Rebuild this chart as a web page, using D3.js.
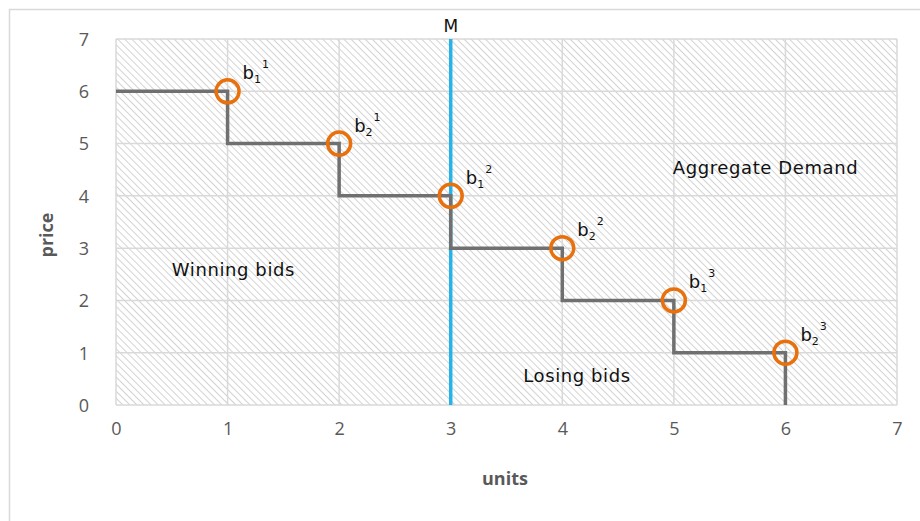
<!DOCTYPE html>
<html><head><meta charset="utf-8">
<script src="https://cdn.jsdelivr.net/npm/d3@7"></script>
<style>body{margin:0;background:#fff}svg{display:block}</style>
</head><body>
<svg id="c" width="920" height="521"></svg>
<script>
// data
const stepUnits = [0, 1, 2, 3, 4, 5, 6];
const stepPrice = [6, 5, 4, 3, 2, 1, 0];
const bidUnits = [1, 2, 3, 4, 5, 6];
const bidPrice = [6, 5, 4, 3, 2, 1];
const bidSub = ["1", "2", "1", "2", "1", "2"];
const bidSup = ["1", "1", "2", "2", "3", "3"];
const xTicks = [0, 1, 2, 3, 4, 5, 6, 7];
const yTicks = [0, 1, 2, 3, 4, 5, 6, 7];
const marketUnits = 3;
const marketLabel = "M";
const noteText = ["Winning bids", "Aggregate Demand", "Losing bids"];
const noteUnits = [0.5, 4.99, 3.65];
const notePrice = [2.47, 4.42, 0.44];

const svg = d3.select("#c");
const W = 920, H = 521;
const m = {l: 116, r: 23, t: 39, b: 116};
const x = d3.scaleLinear().domain([0, 7]).range([m.l, W - m.r]);
const y = d3.scaleLinear().domain([0, 7]).range([H - m.b, m.t]);
const annFont = "DejaVu Sans, sans-serif";

// outer frame
svg.append("path").attr("d", `M9.5,${H} V9.5 H${W}`).attr("fill", "none").attr("stroke", "#d9d9d9").attr("stroke-width", 1.5);

// hatch pattern
const defs = svg.append("defs");
const pat = defs.append("pattern").attr("id", "hatch").attr("patternUnits", "userSpaceOnUse")
  .attr("width", 5).attr("height", 5).attr("patternTransform", "rotate(-45)");
pat.append("line").attr("x1", 0).attr("y1", 0).attr("x2", 0).attr("y2", 5)
  .attr("stroke", "#c8c8c8").attr("stroke-width", 1.6);

svg.append("rect").attr("x", x(0)).attr("y", y(7)).attr("width", x(7) - x(0)).attr("height", y(0) - y(7))
  .attr("fill", "url(#hatch)");

// gridlines
const grid = svg.append("g").attr("stroke", "#d9d9d9").attr("stroke-width", 1.5);
grid.selectAll(".gx").data(xTicks).join("line")
  .attr("x1", d => x(d)).attr("x2", d => x(d)).attr("y1", y(0)).attr("y2", y(7));
grid.selectAll(".gy").data(yTicks).join("line")
  .attr("y1", d => y(d)).attr("y2", d => y(d)).attr("x1", x(0)).attr("x2", x(7));

// axes tick labels
const xAxis = svg.append("g").attr("transform", `translate(0,${y(0) + 14})`)
  .call(d3.axisBottom(x).tickValues(xTicks).tickSize(0).tickFormat(d3.format("d")));
const yAxis = svg.append("g").attr("transform", `translate(${x(0) - 24},0)`)
  .call(d3.axisLeft(y).tickValues(yTicks).tickSize(0).tickFormat(d3.format("d")));
[xAxis, yAxis].forEach(a => {
  a.select(".domain").remove();
  a.selectAll("text").attr("fill", "#595959").attr("font-size", 18).attr("font-family", "Open Sans, sans-serif");
});
yAxis.selectAll("text").attr("dy", "0.35em");

// axis titles
svg.append("text").attr("x", 505).attr("y", 485).attr("text-anchor", "middle")
  .attr("font-family", "Open Sans, sans-serif").attr("font-weight", "bold").attr("font-size", 18).attr("fill", "#595959").text("units");
svg.append("text").attr("transform", `translate(53,235) rotate(-90)`).attr("text-anchor", "middle")
  .attr("font-family", "Open Sans, sans-serif").attr("font-weight", "bold").attr("font-size", 18).attr("fill", "#595959").text("price");

// market line
svg.append("line").attr("x1", x(marketUnits)).attr("x2", x(marketUnits)).attr("y1", y(7)).attr("y2", y(0))
  .attr("stroke", "#27b3e8").attr("stroke-width", 3.5);
svg.append("text").attr("x", x(marketUnits)).attr("y", 32).attr("text-anchor", "middle")
  .attr("font-family", annFont).attr("font-size", 17).attr("fill", "#111").text(marketLabel);

// demand step line
const pts = stepUnits.map((u, i) => [u, stepPrice[i]]);
svg.append("path").datum(pts)
  .attr("d", d3.line().x(d => x(d[0])).y(d => y(d[1])).curve(d3.curveStepAfter))
  .attr("fill", "none").attr("stroke", "#707070").attr("stroke-width", 3.5);

// bid circles
svg.selectAll(".bid").data(bidUnits).join("circle")
  .attr("cx", d => x(d)).attr("cy", (d, i) => y(bidPrice[i])).attr("r", 11.5)
  .attr("fill", "none").attr("stroke", "#e8710e").attr("stroke-width", 3.5);

// bid labels
const lab = svg.selectAll(".blab").data(bidUnits).join("text")
  .attr("x", d => x(d) + 15).attr("y", (d, i) => y(bidPrice[i]) - 12)
  .attr("font-family", annFont).attr("font-size", 18).attr("fill", "#111");
lab.append("tspan").text("b");
lab.append("tspan").attr("font-size", 11).attr("dy", 4).text((d, i) => bidSub[i]);
lab.append("tspan").attr("font-size", 11).attr("dx", 1).attr("dy", -15).text((d, i) => bidSup[i]);

// notes
svg.selectAll(".note").data(noteText).join("text")
  .attr("x", (d, i) => x(noteUnits[i])).attr("y", (d, i) => y(notePrice[i]))
  .attr("font-family", annFont).attr("font-size", 18).attr("letter-spacing", 0.6)
  .attr("fill", "#111").text(d => d);
</script>
</body></html>
